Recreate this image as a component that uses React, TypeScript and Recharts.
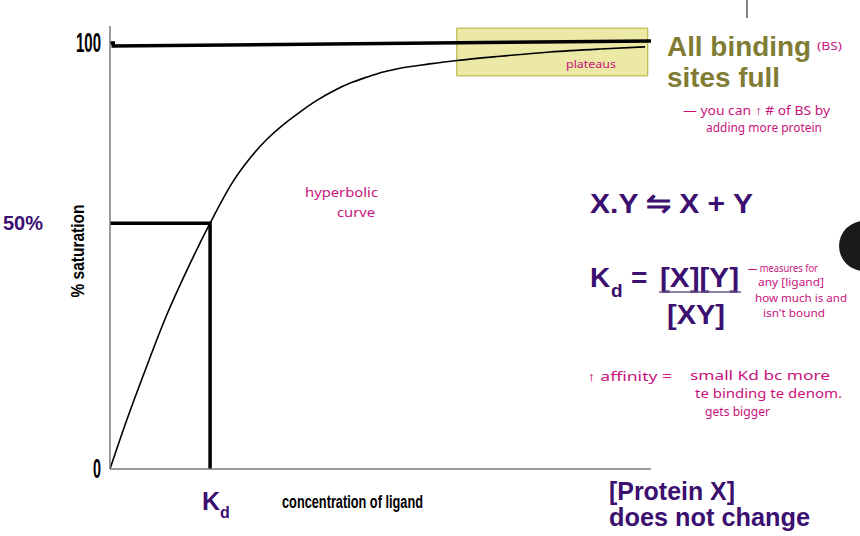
import { Label, Line, LineChart, ReferenceArea, XAxis, YAxis } from "recharts";

// concentration of ligand (arbitrary units, 0..100 across the axis) vs % saturation
const concentration = [0, 3.1, 6.1, 10.5, 13.9, 18.5, 22.7, 25.9, 29.0, 32.0, 35.1, 38.3, 41.2, 44.4, 47.5, 50.5, 53.6, 59.1, 64.1, 72.1, 81.3, 90.6, 98.9];
const saturation = [0, 11.5, 21.8, 36.2, 45.8, 57.7, 67.4, 73.0, 77.4, 80.8, 83.8, 86.6, 88.7, 90.6, 92.0, 93.2, 94.1, 95.1, 95.9, 96.9, 97.9, 98.6, 99.1];

// hand-drawn max line (with its little step at the axis)
const maxLineX = [0, 0.6, 0.6, 100];
const maxLineY = [100, 100, 99.3, 100.5];

// Kd guide: half saturation level and the Kd concentration
const kdValue = 18.5;
const halfLevel = 57.7;

const plateauBox = { x1: 64.1, x2: 99.4, y1: 92.3, y2: 103.5 };
const yTicks = [0, 100];

const curveData = concentration.map((x, i) => ({ x, y: saturation[i] }));
const maxData = maxLineX.map((x, i) => ({ x, y: maxLineY[i] }));
const kdData = [
  { x: 0, y: halfLevel },
  { x: kdValue, y: halfLevel },
  { x: kdValue, y: 0 },
];

const NARROW = "'Liberation Sans Narrow', 'Liberation Sans', Arial, sans-serif";
const SANS = "'Liberation Sans', Arial, sans-serif";
const PURPLE = "#3b1070";
const PINK = "#c8137d";
const OLIVE = "#807c33";

function YTick(props: any) {
  const { x, y, payload } = props;
  const label = String(payload.value);
  return (
    <text
      x={x - 1}
      y={y + 9}
      textAnchor="end"
      fontFamily={NARROW}
      fontWeight={700}
      fontSize={27}
      fill="#000"
      textLength={label.length === 3 ? 25 : 8}
      lengthAdjust="spacingAndGlyphs"
    >
      {label}
    </text>
  );
}

function YTitle() {
  const cx = 77;
  const cy = 251;
  return (
    <text
      x={cx}
      y={cy}
      transform={`rotate(-90 ${cx} ${cy})`}
      textAnchor="middle"
      dominantBaseline="central"
      fontFamily={NARROW}
      fontWeight={700}
      fontSize={19}
      fill="#000"
      textLength={93}
      lengthAdjust="spacingAndGlyphs"
    >
      % saturation
    </text>
  );
}

function XTitle() {
  return (
    <text
      x={282}
      y={508}
      fontFamily={NARROW}
      fontWeight={700}
      fontSize={18}
      fill="#000"
      textLength={141}
      lengthAdjust="spacingAndGlyphs"
    >
      concentration of ligand
    </text>
  );
}

function Note({ x, y, w, children, size = 12 }: { x: number; y: number; w: number; children: string; size?: number }) {
  return (
    <text
      x={x}
      y={y}
      fontFamily="'Noto Sans', sans-serif"
      fontSize={size}
      fill={PINK}
      textLength={w}
      lengthAdjust="spacingAndGlyphs"
    >
      {children}
    </text>
  );
}

export default function App() {
  return (
    <div style={{ position: "absolute", left: 0, top: 0, width: 860, height: 536, background: "#fff" }}>
      <LineChart width={860} height={536} margin={{ top: 26, right: 209, left: 50, bottom: 37 }}>
        <XAxis
          type="number"
          dataKey="x"
          domain={[0, 100]}
          tick={false}
          tickLine={false}
          height={30}
          axisLine={{ stroke: "#7a7a7a", strokeWidth: 1.5 }}
        >
          <Label content={<XTitle />} />
        </XAxis>
        <YAxis
          type="number"
          dataKey="y"
          domain={[0, 104]}
          ticks={yTicks}
          tickLine={false}
          width={60}
          tick={<YTick />}
          axisLine={{ stroke: "#7a7a7a", strokeWidth: 1.5 }}
        >
          <Label content={<YTitle />} />
        </YAxis>
        <Line
          data={curveData}
          dataKey="y"
          type="monotone"
          stroke="#000"
          strokeWidth={1.6}
          dot={false}
          isAnimationActive={false}
        />
        <Line
          data={maxData}
          dataKey="y"
          type="linear"
          stroke="#000"
          strokeWidth={3.5}
          dot={false}
          isAnimationActive={false}
        />
        <Line
          data={kdData}
          dataKey="y"
          type="linear"
          stroke="#000"
          strokeWidth={3.5}
          dot={false}
          isAnimationActive={false}
        />
        <ReferenceArea
          x1={plateauBox.x1}
          x2={plateauBox.x2}
          y1={plateauBox.y1}
          y2={plateauBox.y2}
          fill="#c8be00"
          fillOpacity={0.35}
          stroke="#b3ad33"
          strokeOpacity={1}
          ifOverflow="visible"
        />
      </LineChart>

      <svg
        width={860}
        height={536}
        style={{ position: "absolute", left: 0, top: 0, pointerEvents: "none" }}
      >
        <line x1={747} y1={0} x2={747} y2={18} stroke="#333" strokeWidth={1.2} />
        <circle cx={864} cy={246} r={25} fill="#1a1a1a" />

        <text x={3} y={230} fontFamily={SANS} fontWeight={700} fontSize={20} fill={PURPLE}>
          50%
        </text>
        <text x={202} y={510} fontFamily={SANS} fontWeight={700} fontSize={25} fill={PURPLE}>
          K
        </text>
        <text x={220} y={518} fontFamily={SANS} fontWeight={700} fontSize={16} fill={PURPLE}>
          d
        </text>

        <text x={667} y={56} fontFamily={SANS} fontWeight={700} fontSize={27} fill={OLIVE} textLength={144} lengthAdjust="spacingAndGlyphs">
          All binding
        </text>
        <text x={667} y={87} fontFamily={SANS} fontWeight={700} fontSize={27} fill={OLIVE} textLength={113} lengthAdjust="spacingAndGlyphs">
          sites full
        </text>

        <text x={590} y={213} fontFamily={SANS} fontWeight={700} fontSize={28} fill={PURPLE} textLength={163} lengthAdjust="spacingAndGlyphs">
          X.Y ⇋ X + Y
        </text>
        <text x={590} y={287} fontFamily={SANS} fontWeight={700} fontSize={28} fill={PURPLE}>
          K
        </text>
        <text x={611} y={297} fontFamily={SANS} fontWeight={700} fontSize={19} fill={PURPLE}>
          d
        </text>
        <text x={631} y={287} fontFamily={SANS} fontWeight={700} fontSize={28} fill={PURPLE}>
          =
        </text>
        <text x={660} y={287} fontFamily={SANS} fontWeight={700} fontSize={28} fill={PURPLE} textLength={79} lengthAdjust="spacingAndGlyphs">
          [X][Y]
        </text>
        <line x1={659} y1={292} x2={741} y2={292} stroke="#6b5a8a" strokeWidth={1.6} />
        <text x={667} y={324} fontFamily={SANS} fontWeight={700} fontSize={28} fill={PURPLE} textLength={58} lengthAdjust="spacingAndGlyphs">
          [XY]
        </text>

        <text x={609} y={500} fontFamily={SANS} fontWeight={700} fontSize={25} fill={PURPLE} textLength={126} lengthAdjust="spacingAndGlyphs">
          [Protein X]
        </text>
        <text x={609} y={526} fontFamily={SANS} fontWeight={700} fontSize={25} fill={PURPLE} textLength={201} lengthAdjust="spacingAndGlyphs">
          does not change
        </text>

        <Note x={566} y={68} w={50} size={11}>plateaus</Note>
        <Note x={817} y={50} w={25} size={10}>(BS)</Note>
        <Note x={683} y={115} w={147}>— you can ↑ # of BS by</Note>
        <Note x={706} y={132} w={116}>adding more protein</Note>
        <Note x={305} y={197} w={73} size={12}>hyperbolic</Note>
        <Note x={337} y={217} w={38} size={12}>curve</Note>
        <Note x={748} y={272} w={70} size={11}>— measures for</Note>
        <Note x={758} y={286} w={66} size={11}>any [ligand]</Note>
        <Note x={755} y={302} w={92} size={11}>how much is and</Note>
        <Note x={763} y={317} w={62} size={11}>isn't bound</Note>
        <Note x={587} y={381} w={85} size={13}>↑ affinity =</Note>
        <Note x={690} y={380} w={140}>small Kd bc more</Note>
        <Note x={695} y={398} w={147}>te binding te denom.</Note>
        <Note x={705} y={416} w={65}>gets bigger</Note>
      </svg>
    </div>
  );
}
